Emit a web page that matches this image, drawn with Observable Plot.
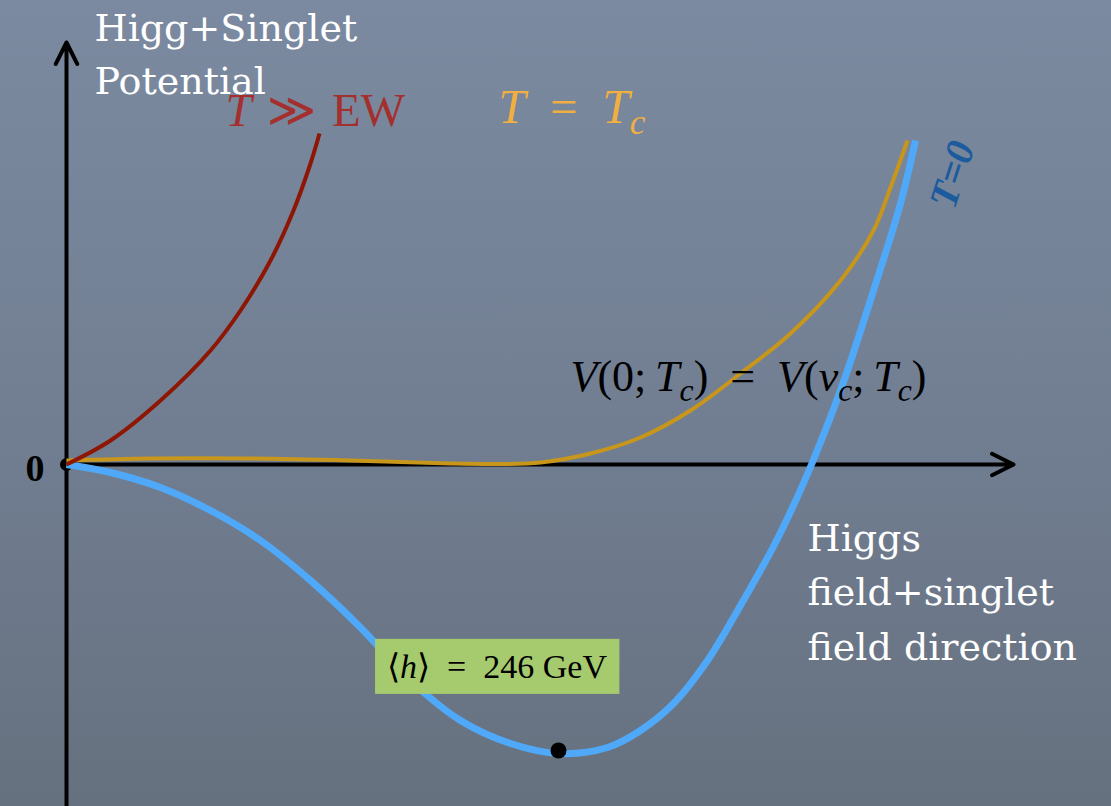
<!DOCTYPE html>
<html>
<head>
<meta charset="utf-8">
<script src="https://cdn.jsdelivr.net/npm/d3@7"></script>
<script src="https://cdn.jsdelivr.net/npm/@observablehq/plot@0.6"></script>
<style>
  html, body { margin: 0; padding: 0; }
  body {
    width: 1111px; height: 806px; overflow: hidden;
    background: linear-gradient(to bottom, #7b8aa0 0%, #727f93 50%, #66717f 100%);
  }
  svg { display: block; }
</style>
</head>
<body>
<script>
// Field value along the Higgs+singlet direction (GeV) and potential (arbitrary units)

// High temperature, T >> EW: single minimum at the origin
const hotField     = [0, 22, 47, 72, 87, 102, 113.5, 122, 126.5];
const hotPotential = [0, 0.24, 0.64, 1.14, 1.54, 2.04, 2.54, 3.01, 3.31];

// Critical temperature T = Tc: two degenerate minima
const critField     = [0, 42, 92, 142, 192, 217, 237, 262, 287, 312, 337, 362, 387, 403.5, 412, 420.5];
const critPotential = [0.04, 0.06, 0.06, 0.04, 0.01, 0.005, 0.02, 0.11, 0.27, 0.54, 0.91, 1.31, 1.84, 2.34, 2.77, 3.24];

// Zero temperature, T = 0: broken phase with the minimum at the vev
const zeroField     = [0, 22, 47, 72, 97, 122, 147, 172, 197, 222, 246, 270.5, 287, 303.5, 320.5, 337, 353.5, 363.5, 372.5, 387.5, 404, 417, 424.5];
const zeroPotential = [0, -0.08, -0.23, -0.46, -0.76, -1.16, -1.63, -2.16, -2.56, -2.79, -2.89, -2.83, -2.66, -2.39, -1.96, -1.41, -0.82, -0.41, 0, 0.77, 1.77, 2.61, 3.24];

// Electroweak vacuum
const vev = 246;
const vevPotential = -2.86;

const rows = (xs, ys) => xs.map((x, i) => ({x, y: ys[i]}));

const xDomain = [-33, 522.5];
const yDomain = [-3.42, 4.64];

const chart = Plot.plot({
  width: 1111,
  height: 806,
  margin: 0,
  x: {domain: xDomain, axis: null},
  y: {domain: yDomain, axis: null},
  style: {background: "transparent", overflow: "visible"},
  marks: [
    // potential axis and field axis
    Plot.arrow([
      {x1: 0, y1: yDomain[0], x2: 0, y2: 4.22},
      {x1: 0, y1: 0, x2: 473.5, y2: 0}
    ], {x1: "x1", y1: "y1", x2: "x2", y2: "y2", stroke: "black", strokeWidth: 4,
        headAngle: 53, headLength: 9, strokeLinecap: "round", strokeLinejoin: "round"}),
    Plot.dot([{x: 0, y: 0}], {x: "x", y: "y", r: 6.5, fill: "black"}),

    Plot.line(rows(zeroField, zeroPotential), {x: "x", y: "y", curve: "catmull-rom",
      stroke: "#4fa9f8", strokeWidth: 7, strokeLinecap: "butt"}),
    Plot.line(rows(critField, critPotential), {x: "x", y: "y", curve: "catmull-rom",
      stroke: "#c7961b", strokeWidth: 4, strokeLinecap: "butt"}),
    Plot.line(rows(hotField, hotPotential), {x: "x", y: "y", curve: "catmull-rom",
      stroke: "#8e1604", strokeWidth: 4, strokeLinecap: "butt"}),

    Plot.dot([{x: vev, y: vevPotential}], {x: "x", y: "y", r: 8, fill: "black"}),

    // axis captions
    Plot.text([{x: 14, y: 3.71, t: "Higg+Singlet\nPotential"}], {x: "x", y: "y", text: "t",
      textAnchor: "start", lineAnchor: "bottom", lineHeight: 1.38,
      fontSize: 38, fontFamily: "DejaVu Serif", fill: "white"}),
    Plot.text([{x: 370.5, y: -1.95, t: "Higgs\nfield+singlet\nfield direction"}], {x: "x", y: "y", text: "t",
      textAnchor: "start", lineAnchor: "bottom", lineHeight: 1.43,
      fontSize: 38, fontFamily: "DejaVu Serif", fill: "white"}),
    Plot.text([{x: -11, y: -0.16, t: "0"}], {x: "x", y: "y", text: "t",
      textAnchor: "end", lineAnchor: "bottom", fontSize: 38, fontWeight: "bold",
      fontFamily: "Liberation Serif", fill: "black"}),

    // curve labels (with *italic* and ~subscript~ markup)
    Plot.text([{x: 79.5, y: 3.39, t: "*T*\u2004≫\u2004EW"}], {x: "x", y: "y", text: "t",
      textAnchor: "start", lineAnchor: "bottom", fontSize: 47,
      fontFamily: "Liberation Serif", fill: "#a3302f"}),
    Plot.text([{x: 216, y: 3.42, t: "*T*\u2002=\u2002*T*~c~"}], {x: "x", y: "y", text: "t",
      textAnchor: "start", lineAnchor: "bottom", fontSize: 49,
      fontFamily: "Liberation Serif", fill: "#f2af41"}),
    Plot.text([{x: 443, y: 2.9, t: "T=0"}], {x: "x", y: "y", text: "t",
      textAnchor: "middle", lineAnchor: "middle", rotate: -72, fontSize: 40,
      fontWeight: "bold", fontStyle: "italic",
      fontFamily: "Liberation Serif", fill: "#1b5b9e"}),
    Plot.text([{x: 252, y: 0.74, t: "*V*(0;\u2009*T*~c~)\u2002=\u2002*V*(*v*~c~;\u2009*T*~c~)"}], {x: "x", y: "y", text: "t",
      textAnchor: "start", lineAnchor: "bottom", fontSize: 44,
      fontFamily: "Liberation Serif", fill: "black"}),
    Plot.text([{x: 215.25, y: -2.025, t: "⟨*h*⟩\u2002=\u2002246 GeV"}], {x: "x", y: "y", text: "t",
      textAnchor: "middle", lineAnchor: "middle", fontSize: 34,
      fontFamily: "Liberation Serif", fill: "black"})
  ]
});

document.body.appendChild(chart);

// Turn the *italic* / ~subscript~ markup into tspans
const SVGNS = "http://www.w3.org/2000/svg";
function renderMath(el) {
  const src = el.textContent;
  const size = parseFloat(getComputedStyle(el).fontSize);
  const shift = 0.24 * size;
  el.textContent = "";
  let lowered = false;
  for (const part of src.split(/(\*[^*]+\*|~[^~]+~)/).filter((s) => s)) {
    const ts = document.createElementNS(SVGNS, "tspan");
    let dy = 0;
    if (part[0] === "~") {
      ts.textContent = part.slice(1, -1);
      ts.setAttribute("font-style", "italic");
      ts.setAttribute("font-size", 0.72 * size);
      if (!lowered) { dy = shift; lowered = true; }
    } else {
      if (lowered) { dy = -shift; lowered = false; }
      if (part[0] === "*") {
        ts.textContent = part.slice(1, -1);
        ts.setAttribute("font-style", "italic");
      } else {
        ts.textContent = part;
      }
    }
    if (dy) ts.setAttribute("dy", dy);
    el.appendChild(ts);
  }
}

const texts = d3.select(chart).selectAll("text");
texts.filter(function () { return /[*~]/.test(this.textContent); })
  .each(function () { renderMath(this); });

// Green box behind the vev label
texts.filter(function () { return this.textContent.includes("GeV"); })
  .each(function () {
    const bb = this.getBBox();
    const padX = 12, padY = 9;
    const rect = document.createElementNS(SVGNS, "rect");
    rect.setAttribute("x", bb.x - padX);
    rect.setAttribute("y", bb.y - padY);
    rect.setAttribute("width", bb.width + 2 * padX);
    rect.setAttribute("height", bb.height + 2 * padY);
    rect.setAttribute("fill", "#a6cb6f");
    const tf = this.getAttribute("transform");
    if (tf) rect.setAttribute("transform", tf);
    this.parentNode.insertBefore(rect, this);
  });
</script>
</body>
</html>
